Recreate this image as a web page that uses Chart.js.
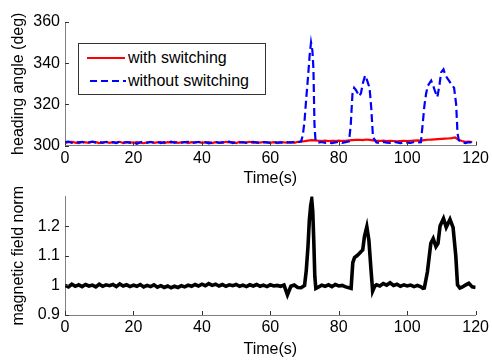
<!DOCTYPE html>
<html>
<head>
<meta charset="utf-8">
<script src="https://cdn.jsdelivr.net/npm/chart.js@4.4.1/dist/chart.umd.min.js"></script>
<style>
  html, body { margin: 0; padding: 0; background: #fff; }
  body { width: 492px; height: 360px; position: relative; overflow: hidden; font-family: 'Liberation Sans', Arial, sans-serif; }
  canvas { position: absolute; left: 0; }
  #c1 { top: 0; }
  #c2 { top: 182px; }
  #legend { position: absolute; left: 78px; top: 43px; width: 186px; height: 50px; border: 1px solid #333; background: #fff; }
  .row { position: absolute; left: 0; height: 20px; font-size: 16px; line-height: 20px; color: #000; white-space: nowrap; }
  .row span { position: absolute; left: 49px; top: 0; }
  .sample { position: absolute; left: 8px; width: 38px; height: 2px; top: 9px; }
  .red { background: #ff0000; }
  .blue { left: 11px; width: 36px; background: repeating-linear-gradient(to right, #0000ff 0 7px, transparent 7px 11px); }
</style>
</head>
<body>
<canvas id="c1" width="492" height="192"></canvas>
<canvas id="c2" width="492" height="178"></canvas>
<div id="legend">
  <div class="row" style="top:4px"><div class="sample red"></div><span>with switching</span></div>
  <div class="row" style="top:27px"><div class="sample blue"></div><span>without switching</span></div>
</div>
<script>
// ---- Data ----
const xTicks = [0, 20, 40, 60, 80, 100, 120];
const headingTicks = [300, 320, 340, 360];
const fieldTicks = [0.9, 1, 1.1, 1.2];

// heading angle, with switching (red), sampled once per second, t = 0..119 s
const withSwitching = [
  301.3,301.6,301.8,301.4,301.2,301.7,301.5,301.3,301.8,301.6,
  301.2,301.5,301.7,301.3,301.6,301.4,301.8,301.2,301.5,301.6,
  301.3,301.7,301.4,301.1,301.6,301.8,301.3,301.5,301.7,301.2,
  301.6,301.4,301.8,301.3,301.5,301.7,301.2,301.6,301.4,301.8,
  301.3,301.5,301.7,301.2,301.6,301.4,301.3,301.8,301.5,301.6,
  301.2,301.7,301.4,301.5,301.8,301.3,301.6,301.4,301.7,301.5,
  301.3,301.6,301.2,301.7,301.5,301.4,301.6,301.3,301.8,301.9,
  302.1,302.4,302.6,302.5,302.3,302.2,302.4,302.1,302.3,302.2,
  302.4,302.2,302.3,302.5,302.6,302.7,302.8,302.6,302.9,302.7,
  302.5,302.3,302.2,302.4,302.1,302.3,302.2,302.0,302.2,302.3,
  302.1,302.3,302.4,302.5,302.4,302.6,302.8,302.9,303.0,303.1,
  303.2,303.3,303.4,303.6,303.9,302.8,302.2,301.8,301.9,301.7
];
const withSwitchingTime = withSwitching.map((_, i) => i);

// heading angle, without switching (blue dashed)
const withoutSwitchingTime = [
  0,1,2,3,4,5,6,7,8,9,10,11,12,13,14,15,16,17,18,19,
  20,21,22,23,24,25,26,27,28,29,30,31,32,33,34,35,36,37,38,39,
  40,41,42,43,44,45,46,47,48,49,50,51,52,53,54,55,56,57,58,59,
  60,61,62,63,64,65,66,67,68,69,
  69.5,70,70.5,71,71.5,71.9,72.3,72.6,72.9,73.2,
  74,75,76,77,78,79,80,81,82,
  83,83.5,84,84.5,85,85.5,86,86.5,87,87.7,88.3,89,89.5,90,
  91,92,93,94,95,96,97,98,99,100,101,102,103,104,
  104.5,105,105.5,106,107,107.6,108.2,108.8,109.4,109.9,110.6,111.2,111.8,112.4,113,113.7,114.3,114.7,115.1,
  116,117,118,119,119.6
];
const withoutSwitching = [
  301.6,301.9,301.3,301.7,301.5,301.8,301.2,301.6,301.9,301.4,
  301.7,301.3,301.8,301.5,301.6,301.2,301.9,301.4,301.7,301.3,
  301.5,300.8,301.6,301.9,301.3,301.7,301.4,301.8,301.2,301.6,
  301.5,301.9,301.3,301.7,301.4,301.6,301.8,301.2,301.5,301.7,
  301.3,301.6,301.0,301.4,301.8,301.3,301.6,301.5,301.9,301.2,
  301.6,301.4,301.7,301.3,301.5,301.8,301.4,301.2,301.6,301.5,
  301.3,301.7,301.4,301.5,301.1,301.6,301.4,301.8,301.5,302.0,
  305,312,323,333,344,350,346,337,310,302.5,
  301.4,301.7,301.3,301.6,301.2,301.5,301.8,301.3,301.6,
  302,310,325,328,327,325.5,324,325.5,330,334,331.5,328,318,304,
  301.5,301.2,301.7,301.4,301.3,301.8,301.5,301.1,301.6,301.4,301.3,301.7,301.5,301.6,
  310,319,325,329,331.5,329,326,323.5,329,335.5,337,334,332.5,331,329.5,328,320,306,302.5,
  301.5,301.2,301.6,301.4,301.5
];

// magnetic field norm (black)
const fieldTime = [
  0,1,2,3,4,5,6,7,8,9,10,11,12,13,14,15,16,17,18,19,
  20,21,22,23,24,25,26,27,28,29,30,31,32,33,34,35,36,37,38,39,
  40,41,42,43,44,45,46,47,48,49,50,51,52,53,54,55,56,57,58,59,
  60,61,62,63,64,65,66,67,68,69,
  70,70.5,71,71.4,71.8,72.1,72.4,72.7,73.0,73.3,
  74,75,76,77,78,79,80,81,82,83,
  83.6,84.1,84.6,85.3,86,86.6,87,87.5,88.2,88.8,89.4,89.9,90.5,
  91,92,93,94,95,96,97,98,99,100,101,102,103,104,104.6,
  105,105.9,106.9,107.6,108.4,109.0,109.6,110.6,111.4,112.5,113.4,114.2,114.7,115.4,
  116,117,118,119,120
];
const fieldNorm = [
  1.000,0.995,1.004,0.997,1.002,0.996,1.003,0.998,1.001,0.995,
  1.004,0.997,1.002,0.999,1.003,0.996,1.005,0.998,1.002,0.996,
  1.001,0.997,1.003,0.995,1.000,0.996,1.002,0.994,0.999,0.993,
  0.998,0.992,0.997,0.993,0.999,0.995,1.001,0.997,1.003,0.998,
  1.004,0.999,1.006,1.000,1.004,0.998,1.003,0.997,1.002,0.999,
  1.003,0.997,1.001,0.996,1.002,0.998,1.003,0.997,1.001,0.996,
  1.002,0.998,1.000,0.997,1.001,0.968,0.997,1.001,0.993,0.992,
  1.0,1.05,1.13,1.22,1.27,1.29,1.25,1.15,1.03,0.99,
  0.994,1.001,0.997,1.002,0.996,1.003,0.998,1.000,0.995,0.992,
  0.99,1.077,1.094,1.10,1.108,1.115,1.12,1.165,1.198,1.153,1.056,0.981,0.997,
  1.002,0.998,1.006,1.001,1.009,1.000,1.004,0.997,1.002,0.998,1.001,0.996,1.000,0.995,0.99,
  0.991,1.045,1.142,1.158,1.131,1.142,1.201,1.226,1.196,1.223,1.196,1.099,1.002,0.991,
  0.994,1.001,1.007,0.995,0.993
];

// ---- Rendering ----
const FONT = "'Liberation Sans', Arial, sans-serif";
const toXY = (xs, ys) => xs.map((x, i) => ({ x, y: ys[i] }));

const inwardTicks = {
  id: 'inwardTicks',
  afterDraw(chart) {
    const { ctx, chartArea, scales } = chart;
    const xs = scales.x, ys = scales.y;
    ctx.save();
    ctx.strokeStyle = '#333';
    ctx.lineWidth = 1;
    ctx.beginPath();
    xs.ticks.forEach(t => {
      const px = Math.round(xs.getPixelForValue(t.value)) + 0.5;
      ctx.moveTo(px, chartArea.bottom);
      ctx.lineTo(px, chartArea.bottom - 4);
    });
    ys.ticks.forEach(t => {
      if (t.label === '') return;
      const py = Math.round(ys.getPixelForValue(t.value)) + 0.5;
      ctx.moveTo(chartArea.left, py);
      ctx.lineTo(chartArea.left + 4, py);
    });
    ctx.stroke();
    ctx.restore();
  }
};

function makeOptions(cfg) {
  return {
    responsive: false,
    animation: false,
    devicePixelRatio: 1,
    layout: { autoPadding: false, padding: { top: cfg.padTop, right: 15.5, left: 0, bottom: 0 } },
    plugins: { legend: { display: false }, tooltip: { enabled: false } },
    elements: { point: { radius: 0 }, line: { tension: 0 } },
    scales: {
      x: {
        type: 'linear', min: 0, max: 120,
        afterBuildTicks: s => { s.ticks = xTicks.map(v => ({ value: v })); },
        afterFit: s => { s.height = cfg.xHeight; },
        grid: { display: false, drawTicks: false },
        border: { display: true, color: '#808080', width: 1 },
        ticks: { color: '#000', padding: 3, font: { family: FONT, size: 16 }, maxRotation: 0, autoSkip: false },
        title: { display: true, text: 'Time(s)', color: '#000', font: { family: FONT, size: 16 }, padding: { top: 0, bottom: cfg.titlePadBottom } }
      },
      y: {
        type: 'linear', min: cfg.yMin, max: cfg.yMax,
        afterBuildTicks: s => { s.ticks = cfg.yTicks.map(v => ({ value: v })); },
        afterFit: s => { s.width = 65; },
        grid: { display: false, drawTicks: false },
        border: { display: true, color: '#808080', width: 1 },
        ticks: { color: '#000', padding: 5, font: { family: FONT, size: 16 }, autoSkip: false,
                 callback: v => String(Math.round(v * 10) / 10) },
        title: { display: true, text: cfg.yTitle, color: '#000', font: { family: FONT, size: 16 }, padding: { top: 9, bottom: 0 } }
      }
    }
  };
}

new Chart(document.getElementById('c1'), {
  type: 'line',
  data: {
    datasets: [
      { label: 'with switching', data: toXY(withSwitchingTime, withSwitching), borderColor: '#ff0000', borderWidth: 2.2, fill: false, order: 1 },
      { label: 'without switching', data: toXY(withoutSwitchingTime, withoutSwitching), borderColor: '#0000ff', borderWidth: 2.2, borderDash: [8, 4], fill: false, order: 0 }
    ]
  },
  options: makeOptions({ padTop: 22, xHeight: 46.5, titlePadBottom: 4, yMin: 300, yMax: 360, yTicks: headingTicks, yTitle: 'heading angle (deg)' }),
  plugins: [inwardTicks]
});

new Chart(document.getElementById('c2'), {
  type: 'line',
  data: {
    datasets: [
      { label: 'magnetic field norm', data: toXY(fieldTime, fieldNorm), borderColor: '#000', borderWidth: 3.6, fill: false }
    ]
  },
  options: makeOptions({ padTop: 9, xHeight: 45, titlePadBottom: 1, yMin: 0.9, yMax: 1.3, yTicks: fieldTicks, yTitle: 'magnetic field norm' }),
  plugins: [inwardTicks]
});
</script>
</body>
</html>
